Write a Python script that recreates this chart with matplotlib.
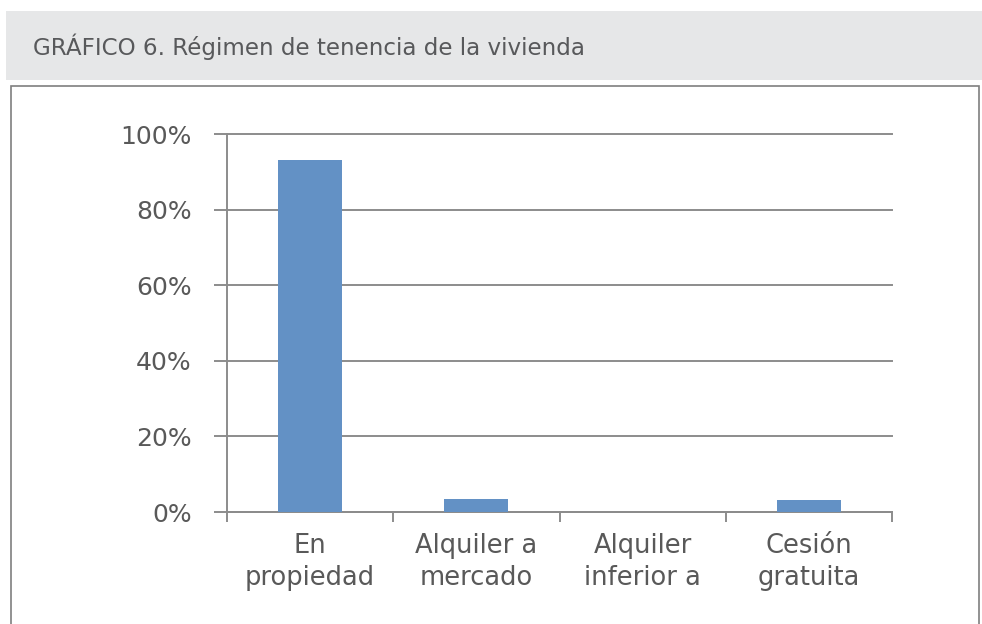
import matplotlib.pyplot as plt
from matplotlib.patches import Rectangle
from matplotlib.ticker import FuncFormatter

categorias = ['En\npropiedad', 'Alquiler a\nmercado', 'Alquiler\ninferior a', 'Cesión\ngratuita']
porcentajes = [93.1, 3.4, 0.0, 3.2]
ticks_y = [0, 20, 40, 60, 80, 100]

W, H = 982, 624
fig = plt.figure(figsize=(W / 100, H / 100), dpi=100)

# cabecera gris y marco
fig.patches.append(Rectangle((6 / W, 1 - 80 / H), 976 / W, 69 / H, transform=fig.transFigure,
                             facecolor='#e6e7e8', edgecolor='none', zorder=0))
fig.patches.append(Rectangle((11 / W, -0.05), 968 / W, 1 - 86 / H + 0.05, transform=fig.transFigure,
                             facecolor='none', edgecolor='#7f7f7f', linewidth=1.2, zorder=0))
fig.text(33 / W, 1 - 47 / H, 'GRÁFICO 6. Régimen de tenencia de la vivienda',
         family='DejaVu Sans', fontsize=16.6, color='#58595b',
         va='center', ha='left')

ax = fig.add_axes([227 / W, 112 / H, 665 / W, 378 / H])
ax.patch.set_alpha(0)
x = range(len(categorias))
ax.bar(x, porcentajes, width=0.385, color='#6391c5', zorder=3)

ax.set_xlim(-0.5, len(categorias) - 0.5)
ax.set_ylim(0, 100)
ax.set_yticks(ticks_y)
ax.yaxis.set_major_formatter(FuncFormatter(lambda v, p: f'{v:.0f}%'))
ax.yaxis.grid(True, color='#8c8c8c', linewidth=1.4)
ax.set_axisbelow(True)
for linea in ax.get_ygridlines():
    linea.set_clip_on(False)

ax.set_xticks([i - 0.5 for i in range(len(categorias) + 1)], minor=False)
ax.set_xticklabels([])
ax.set_xticks(list(x), minor=True)
ax.set_xticklabels(categorias, minor=True)

for s in ['top', 'right']:
    ax.spines[s].set_visible(False)
for s in ['left', 'bottom']:
    ax.spines[s].set_color('#8c8c8c')
    ax.spines[s].set_linewidth(1.4)

ax.tick_params(axis='y', length=9.5, width=1.4, color='#8c8c8c', labelsize=18,
               labelcolor='#595959', pad=16)
ax.tick_params(axis='x', which='major', length=7.5, width=1.4, color='#8c8c8c')
ax.tick_params(axis='x', which='minor', length=0, labelsize=18.5, labelcolor='#595959', pad=15)
for lab in ax.get_xticklabels(minor=True):
    lab.set_linespacing(1.3)

fig.savefig('out.png', dpi=100)
